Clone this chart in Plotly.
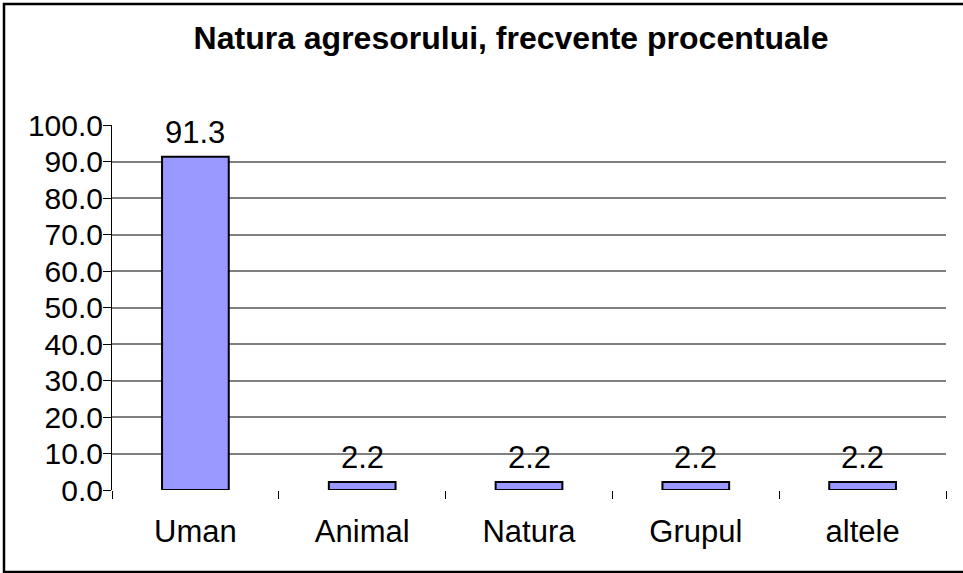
import plotly.graph_objects as go

categories = ["Uman", "Animal", "Natura", "Grupul", "altele"]
values = [91.3, 2.2, 2.2, 2.2, 2.2]
y_ticks = [0, 10, 20, 30, 40, 50, 60, 70, 80, 90, 100]
y_tick_labels = [f"{v:.1f}" for v in y_ticks]
title_text = "Natura agresorului, frecvente procentuale"

W, H = 963, 573
L, R, T, B = 112, 17, 125, 83
FONT = "Liberation Sans, Arial, sans-serif"

fig = go.Figure()
fig.add_trace(go.Bar(
    x=categories, y=values, width=0.4,
    marker=dict(color="#9999FF", line=dict(color="black", width=2)),
    hoverinfo="skip", showlegend=False,
))

for c, v in zip(categories, values):
    fig.add_annotation(x=c, y=v, text=f"{v:.1f}", showarrow=False,
                       yanchor="bottom", yshift=5,
                       font=dict(family=FONT, size=31, color="black"))

pw = W - L - R
ph = H - T - B
# outer chart border (pixel positions converted to paper coordinates)
bx0, bx1, by0, by1 = 4, 970, 4, 572
fig.add_shape(type="rect", xref="paper", yref="paper",
              x0=(bx0 - L) / pw, x1=(bx1 - L) / pw,
              y0=(H - B - by1) / ph, y1=(H - B - by0) / ph,
              line=dict(color="black", width=2.5), layer="above")

fig.update_layout(
    width=W, height=H,
    margin=dict(l=L, r=R, t=T, b=B, autoexpand=False),
    paper_bgcolor="white", plot_bgcolor="white",
    font=dict(family=FONT, color="black"),
    title=dict(text=f"<b>{title_text}</b>", xref="container", yref="container",
               x=511 / W, y=1 - 38 / H, xanchor="center", yanchor="middle",
               font=dict(family=FONT, size=32, color="black")),
    bargap=0.6,
    xaxis=dict(type="category", tickson="boundaries", ticks="outside", ticklen=8,
               tickcolor="black", tickwidth=1, showgrid=False, showline=False,
               tickfont=dict(family=FONT, size=31, color="black"),
               ticklabelstandoff=20, zeroline=False),
    yaxis=dict(range=[0, 100], tickvals=y_ticks, ticktext=y_tick_labels,
               ticks="outside", ticklen=8, tickcolor="black", tickwidth=1,
               showline=True, linecolor="black", linewidth=1,
               showgrid=True, gridcolor="#808080", gridwidth=2,
               zeroline=False,
               tickfont=dict(family=FONT, size=30, color="black"),
               ticklabelstandoff=-6),
)

fig.write_html("out.html", config={"displayModeBar": False},
               post_script="document.body.style.margin='0';document.body.style.overflow='hidden';")
